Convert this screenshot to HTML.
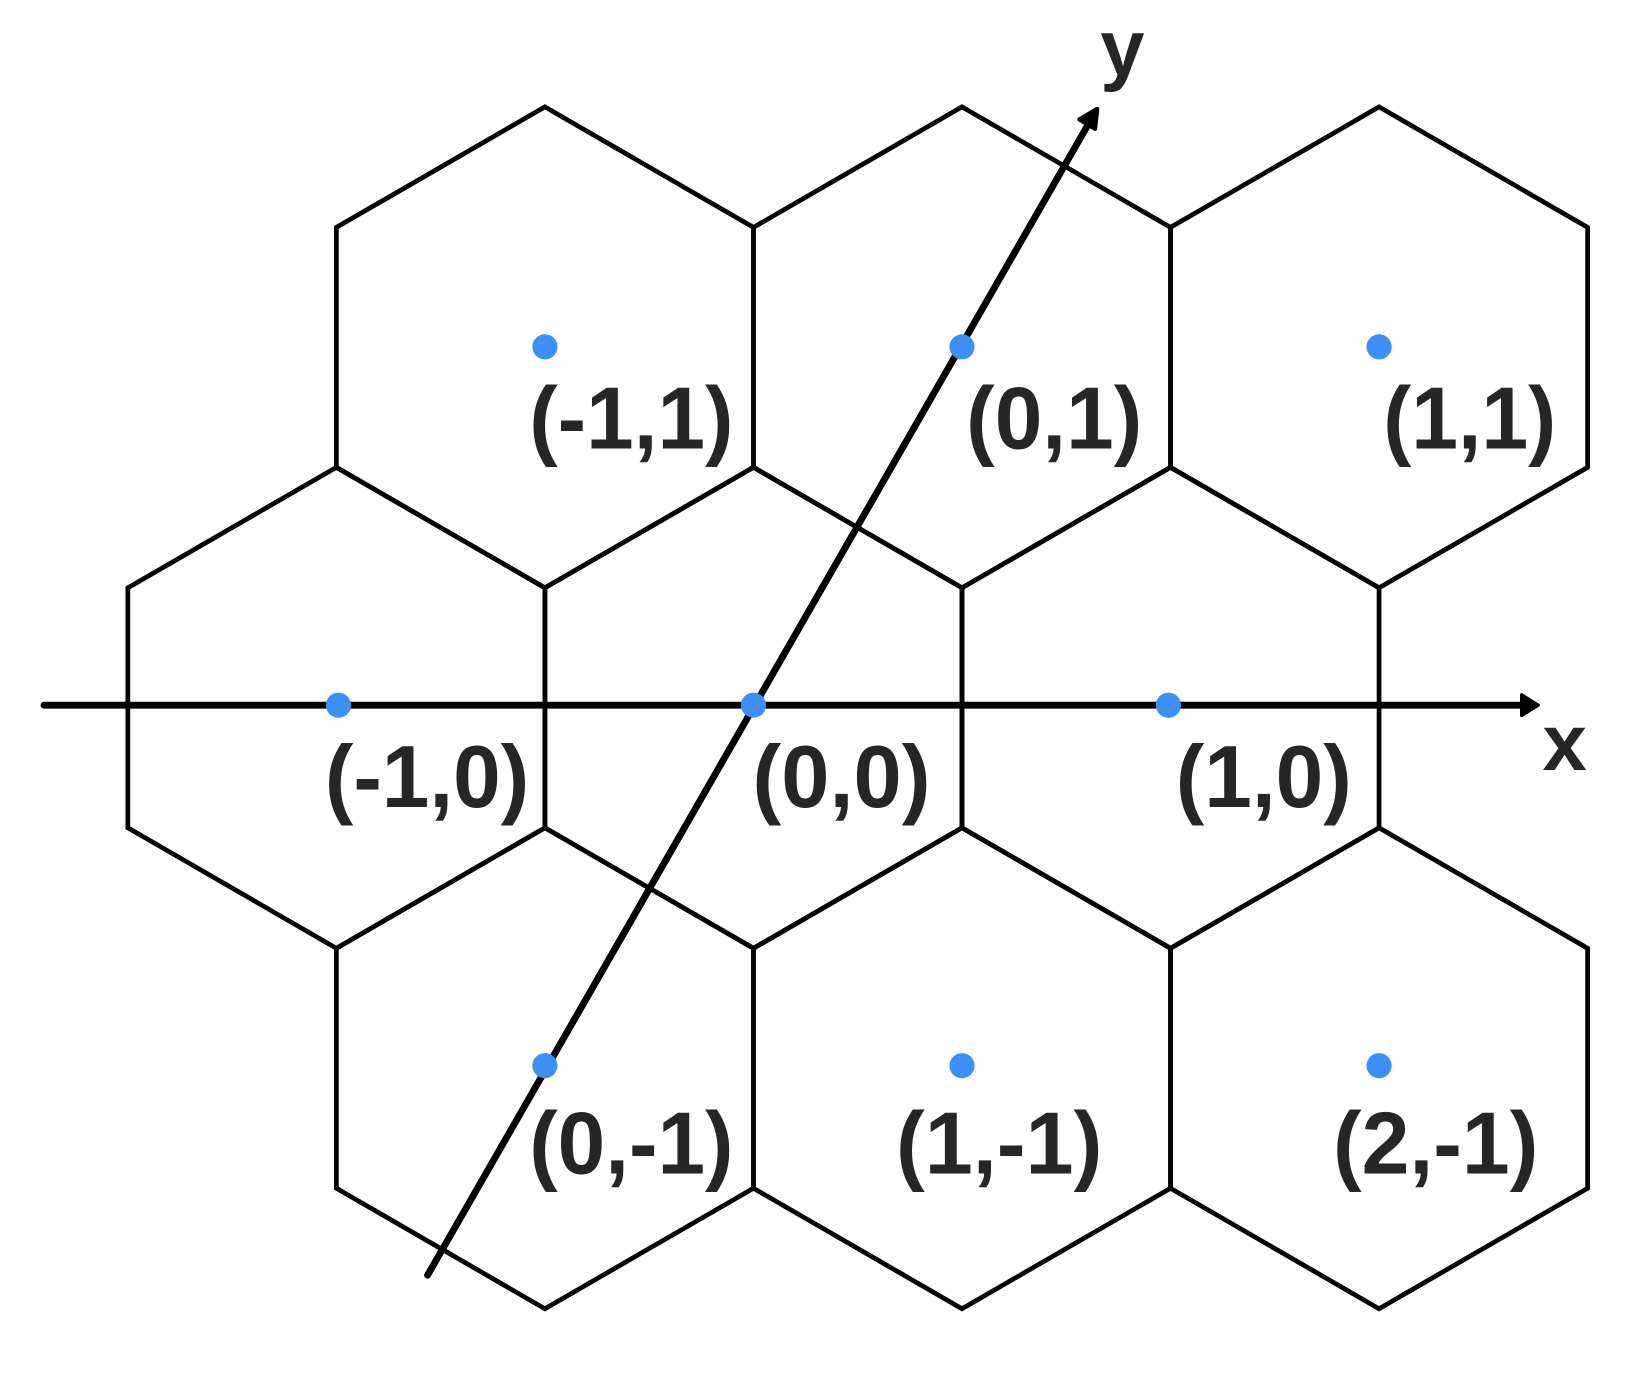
<!DOCTYPE html>
<html><head><meta charset="utf-8"><style>html,body{margin:0;padding:0;background:#fff}svg{display:block}</style></head>
<body>
<svg width="1640" height="1380" viewBox="0 0 1565 1317" preserveAspectRatio="none" xmlns="http://www.w3.org/2000/svg">
<g fill="none" stroke="#000" stroke-width="4.5" stroke-linejoin="miter">
<polygon points="520,102 719,217 719,446 520,561 321,446 321,217"/>
<polygon points="918,102 1117,217 1117,446 918,561 719,446 719,217"/>
<polygon points="1316,102 1515,217 1515,446 1316,561 1117,446 1117,217"/>
<polygon points="321,446 520,561 520,790 321,905 122,790 122,561"/>
<polygon points="719,446 918,561 918,790 719,905 520,790 520,561"/>
<polygon points="1117,446 1316,561 1316,790 1117,905 918,790 918,561"/>
<polygon points="520,790 719,905 719,1134 520,1249 321,1134 321,905"/>
<polygon points="918,790 1117,905 1117,1134 918,1249 719,1134 719,905"/>
<polygon points="1316,790 1515,905 1515,1134 1316,1249 1117,1134 1117,905"/>
</g>
<g stroke="#000" stroke-width="6.5" stroke-linecap="round">
<line x1="42" y1="673" x2="1455" y2="673"/>
<line x1="408" y1="1217" x2="1040" y2="116"/>
</g>
<polygon points="1468,673 1452,663 1452,683" fill="#000" stroke="#000" stroke-width="3" stroke-linejoin="round"/>
<polygon points="1047,104 1030,114 1045,123" fill="#000" stroke="#000" stroke-width="4" stroke-linejoin="round"/>
<g fill="#3b8ff5">
<circle cx="520" cy="331" r="12"/><circle cx="918" cy="331" r="12"/><circle cx="1316" cy="331" r="12"/>
<circle cx="323" cy="673" r="12"/><circle cx="719" cy="673" r="12"/><circle cx="1115" cy="673" r="12"/>
<circle cx="520" cy="1017" r="12"/><circle cx="918" cy="1017" r="12"/><circle cx="1316" cy="1017" r="12"/>
</g>
<g fill="#262626" font-family="'Liberation Sans',sans-serif" font-weight="bold" font-size="84">
<text x="505" y="428" textLength="195" lengthAdjust="spacingAndGlyphs">(-1,1)</text>
<text x="922" y="428" textLength="168" lengthAdjust="spacingAndGlyphs">(0,1)</text>
<text x="1320" y="428" textLength="165" lengthAdjust="spacingAndGlyphs">(1,1)</text>
<text x="310" y="770" textLength="195" lengthAdjust="spacingAndGlyphs">(-1,0)</text>
<text x="718" y="770" textLength="170" lengthAdjust="spacingAndGlyphs">(0,0)</text>
<text x="1122" y="770" textLength="168" lengthAdjust="spacingAndGlyphs">(1,0)</text>
<text x="505" y="1120" textLength="195" lengthAdjust="spacingAndGlyphs">(0,-1)</text>
<text x="855" y="1120" textLength="197" lengthAdjust="spacingAndGlyphs">(1,-1)</text>
<text x="1272" y="1120" textLength="196" lengthAdjust="spacingAndGlyphs">(2,-1)</text>
<text x="1472" y="735" font-size="76">x</text>
<text x="1050" y="72" font-size="76">y</text>
</g>
</svg>
</body></html>
